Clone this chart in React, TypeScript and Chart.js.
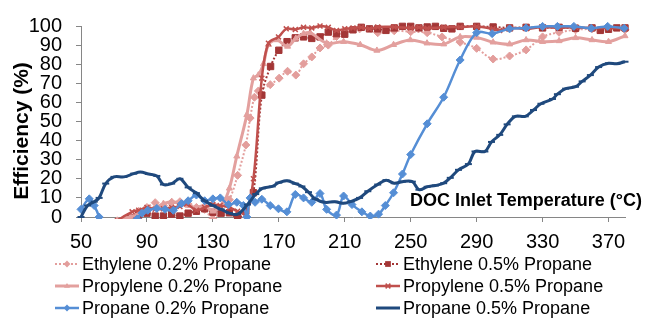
import React, { useEffect, useRef } from "react";
import { Chart, registerables } from "chart.js";

Chart.register(...registerables);

const FONT = '"Liberation Sans", Arial, Helvetica, sans-serif';

const xTickValues = [50, 90, 130, 170, 210, 250, 290, 330, 370];
const yTickValues = [0, 10, 20, 30, 40, 50, 60, 70, 80, 90, 100];
const yTitle = "Efficiency (%)";
const xTitle = "DOC Inlet Temperature (°C)";
const seriesLabels = [
  "Ethylene 0.2% Propane",
  "Ethylene 0.5% Propane",
  "Propylene 0.2% Propane",
  "Propylene 0.5% Propane",
  "Propane 0.2% Propane",
  "Propane 0.5% Propane",
];

// Ethylene 0.2% Propane
const eth02T = [65, 72, 80, 85, 90, 95, 100, 105, 110, 115, 120, 125, 130, 135, 140, 145, 150, 152.6, 155.2, 157.6, 164.8, 170.2, 175.3, 180.3, 185, 190, 195, 200, 205, 211, 219, 230, 240, 250, 260, 269, 280, 290, 300, 310, 320, 330, 340, 350, 360, 370, 380];
const eth02E = [-8, -2, 0, 3, 5, 7.5, 6, 7.7, 8, 6.8, 5, 4, -1, 3, 9, 21.8, 37.7, 51.8, 62.7, 66, 69.3, 72.7, 76.3, 74.3, 80.2, 83.8, 88.5, 90, 94.5, 97.7, 98.5, 96.5, 97.5, 97, 96.5, 94.3, 91.5, 88.3, 82.7, 84.3, 87.5, 94.3, 96.7, 98, 98.5, 98.5, 98];

// Ethylene 0.5% Propane
const eth05T = [65, 72, 80, 85, 90, 95, 100, 105, 110, 115, 120, 125, 130, 135, 140, 145, 150, 154.6, 159.7, 165, 170, 175, 180, 185, 190, 195, 200, 205, 210, 215, 220, 225, 230, 235, 240, 245, 250, 255, 260, 265, 270, 275, 280, 290, 300, 310, 320, 330, 340, 350, 360, 365, 370, 375, 380];
const eth05E = [-8, -3, -0.5, 1, 2, 0.5, 0.5, 1.5, 0.5, 2, 3, 4.3, 2.5, 2, 2.2, -0.5, 3, 12.7, 63.8, 78.8, 87.3, 91.8, 93.8, 94.3, 93.5, 94.3, 96.8, 96, 95.7, 98, 99.3, 98.5, 98.5, 97.7, 99, 99.8, 99.8, 99, 99.5, 99.8, 98.8, 98.5, 99.8, 99.8, 99.5, 99, 99.3, 99, 99.3, 98.8, 99, 97.7, 98.3, 99, 99];

// Propylene 0.2% Propane
const pro02T = [65, 72, 80, 85, 90, 95, 100, 105, 110, 115, 120, 125, 130, 136, 140, 144.5, 150.6, 154.6, 157.6, 160.7, 163.7, 168.8, 175.3, 180.3, 185, 189, 199, 209.3, 219.4, 229.5, 239.6, 249.8, 259.9, 270, 280, 290, 300, 310, 320, 330, 340, 350, 360, 370, 380];
const pro02E = [-8, -2, 0, 2, 4, 5, 7, 8, 7, 6, 5, 6, 3, 7, 15, 31.8, 53.5, 72.7, 74.3, 80.2, 90.2, 92.7, 89.3, 93.5, 96, 96.5, 91, 91.8, 90.2, 87.2, 90.2, 92.7, 91, 90.5, 94.3, 94, 91.5, 90.5, 92.7, 91.8, 92.2, 93.8, 92.7, 91.8, 94.8];

// Propylene 0.5% Propane
const pro05T = [65, 72, 81, 85, 90, 95, 100, 105, 110, 114, 120, 125, 130, 134.4, 140, 145, 150, 154.6, 159.7, 163.7, 169.8, 174.5, 180, 185, 190, 195, 200, 205, 210, 215, 220, 225, 230, 240, 250, 255, 260, 270, 280, 290, 300, 304, 310, 320, 330, 340, 350, 360, 370, 380];
const pro05E = [-8, -2, 2.7, 3.5, 5, 4, 4.3, 5, 5.5, 6.8, 3.5, 5, 6.5, 6, 5, 3, 2, 20, 72.7, 91, 94.3, 98.5, 98.2, 99.3, 99, 100, 99.3, 97.7, 98.5, 99, 99.3, 98.5, 99.5, 99.5, 99, 99.3, 98.8, 99.3, 99.5, 99.8, 98.5, 97.7, 99, 98.5, 99.5, 99, 99.3, 98.8, 99, 98.8];

// Propane 0.2% Propane
const prp02T = [50, 55, 58, 61, 64, 80, 84, 87, 90.5, 96, 101, 106, 111, 115, 120, 125, 130, 134.5, 139.5, 144.5, 148.5, 150.6, 152.6, 155.6, 159.7, 164.8, 169.8, 174.9, 180, 185, 190, 195, 199, 205, 209.3, 214.4, 220.4, 225.5, 230.5, 234.6, 239.6, 245, 250, 260, 270, 280, 290, 299.4, 310, 320, 330, 339, 349, 359.5, 369.5, 379.5];
const prp02E = [4, 9.5, 6, 0, -10, -10, -1, 2, 3.5, 4.5, 4, 3.5, 7, 8.5, 11.5, 8.5, 9.5, 10, 6.5, 7.7, 6, 0, 10, 7.7, 9.3, 6, 4.3, 2.7, 11.8, 10, 7.7, 12.3, 4, 1, 11, 6.5, 2.7, 0.5, 1.5, 6, 12.7, 22.5, 32.7, 48.8, 62.7, 82.2, 96.5, 96, 98.5, 99, 99.8, 99.8, 99.8, 98.8, 99.8, 98.8];

// Propane 0.5% Propane
const prp05T = [50, 54, 58, 61, 65, 70, 76, 82, 86, 91, 96, 100, 105, 110, 115, 120, 125, 130, 135, 140, 145, 151, 156, 160, 166, 170, 175, 180, 184, 188, 192, 198, 204, 209, 214, 219, 224, 230, 235, 240, 245, 251, 255, 260, 265, 270, 274, 279, 285, 289, 295, 299, 304, 308.5, 313.5, 319.5, 324.5, 329, 336, 339, 344, 350, 354, 359, 364, 370, 375, 380];
const prp05E = [0, 6, 8, 10, 17.5, 21, 21, 22.7, 23.5, 22.5, 21.5, 17, 17.5, 20, 15.5, 12.5, 8.5, 6, 4, 2, 1.5, 6.5, 12, 15, 16, 18, 19, 17.5, 16, 13, 9.5, 7.7, 8, 7.2, 8.2, 10, 13.5, 17, 19.3, 17.7, 18.5, 18.5, 14.3, 15.8, 16.5, 17.7, 20.5, 24.7, 27.7, 34.3, 34.3, 39.3, 43, 48.5, 52.7, 52.7, 56, 59.3, 61.8, 64.3, 67.2, 68.2, 71, 74.3, 78.5, 80.5, 80.2, 81.3];

const seriesTemps = [eth02T, eth05T, pro02T, pro05T, prp02T, prp05T];
const seriesEffs = [eth02E, eth05E, pro02E, pro05E, prp02E, prp05E];

type Style = { color: string; width: number; dash: number[]; point: string; radius: number; pbw: number };
const seriesStyles: Style[] = [
  { color: "#E39E9C", width: 2, dash: [2, 2], point: "rectRot", radius: 4, pbw: 1 },
  { color: "#A33636", width: 2, dash: [2, 2], point: "rect", radius: 4.5, pbw: 1 },
  { color: "#E3A09E", width: 3, dash: [], point: "triangle", radius: 3.5, pbw: 1 },
  { color: "#C0504D", width: 2.5, dash: [], point: "crossRot", radius: 3.5, pbw: 1.5 },
  { color: "#558ED5", width: 2.5, dash: [], point: "rectRot", radius: 4, pbw: 1 },
  { color: "#1F497D", width: 3, dash: [], point: "line", radius: 3.5, pbw: 2 },
];

function drawMarker(ctx: CanvasRenderingContext2D, st: Style, x: number, y: number) {
  const r = st.radius * 0.85;
  ctx.save();
  ctx.setLineDash([]);
  ctx.fillStyle = st.color;
  ctx.strokeStyle = st.color;
  ctx.lineWidth = st.pbw;
  ctx.beginPath();
  if (st.point === "rectRot") {
    ctx.moveTo(x, y - r); ctx.lineTo(x + r, y); ctx.lineTo(x, y + r); ctx.lineTo(x - r, y); ctx.closePath(); ctx.fill();
  } else if (st.point === "rect") {
    const s = r * 0.75; ctx.rect(x - s, y - s, 2 * s, 2 * s); ctx.fill();
  } else if (st.point === "triangle") {
    ctx.moveTo(x, y - r); ctx.lineTo(x + r, y + r * 0.6); ctx.lineTo(x - r, y + r * 0.6); ctx.closePath(); ctx.fill();
  } else if (st.point === "crossRot") {
    const s = r * 0.8;
    ctx.moveTo(x - s, y - s); ctx.lineTo(x + s, y + s); ctx.moveTo(x + s, y - s); ctx.lineTo(x - s, y + s); ctx.stroke();
  } else {
    ctx.moveTo(x - r, y); ctx.lineTo(x + r, y); ctx.stroke();
  }
  ctx.restore();
}

const overlayPlugin = {
  id: "overlay",
  afterDraw(chart: any) {
    const ctx: CanvasRenderingContext2D = chart.ctx;
    // y-axis title
    ctx.save();
    ctx.translate(22, 131);
    ctx.rotate(-Math.PI / 2);
    ctx.font = `bold 21px ${FONT}`;
    ctx.fillStyle = "#000";
    ctx.textAlign = "center";
    ctx.textBaseline = "middle";
    ctx.fillText(yTitle, 0, 0);
    ctx.restore();
    // x-axis title (inside plot)
    ctx.save();
    ctx.font = `bold 18px ${FONT}`;
    ctx.fillStyle = "#000";
    ctx.textAlign = "left";
    ctx.textBaseline = "alphabetic";
    ctx.fillText(xTitle, 410, 206);
    ctx.restore();
    // legend
    const colX = [55, 376];
    const rowY = [264, 286, 308];
    seriesLabels.forEach((label, i) => {
      const st = seriesStyles[i];
      const x0 = colX[i % 2];
      const y = rowY[Math.floor(i / 2)];
      ctx.save();
      ctx.strokeStyle = st.color;
      ctx.lineWidth = st.width;
      ctx.setLineDash(st.dash);
      ctx.beginPath();
      ctx.moveTo(x0, y);
      ctx.lineTo(x0 + 24, y);
      ctx.stroke();
      ctx.restore();
      drawMarker(ctx, st, x0 + 12, y);
      ctx.save();
      ctx.font = `18px ${FONT}`;
      ctx.fillStyle = "#000";
      ctx.textAlign = "left";
      ctx.textBaseline = "middle";
      ctx.fillText(label, x0 + 27, y + 1);
      ctx.restore();
    });
  },
};

export default function App() {
  const canvasRef = useRef<HTMLCanvasElement>(null);
  useEffect(() => {
    document.body.style.margin = "0";
    const datasets = seriesLabels.map((label, i) => {
      const st = seriesStyles[i];
      return {
        label,
        data: seriesTemps[i].map((t, k) => ({ x: t, y: seriesEffs[i][k] })),
        borderColor: st.color,
        backgroundColor: st.color,
        borderWidth: st.width,
        borderDash: st.dash,
        pointStyle: st.point,
        pointRadius: st.radius,
        pointHoverRadius: st.radius,
        pointBorderWidth: st.pbw,
        pointBackgroundColor: st.color,
        pointBorderColor: st.color,
        tension: 0.35,
        fill: false,
        order: 5 - i,
        clip: { left: 5, top: 5, right: 5, bottom: 2 },
      };
    });
    const chart = new Chart(canvasRef.current as HTMLCanvasElement, {
      type: "line",
      data: { datasets } as any,
      options: {
        responsive: false,
        animation: false,
        devicePixelRatio: 1,
        layout: { padding: { left: 0, top: 17, right: 22, bottom: 69 } },
        plugins: { legend: { display: false }, tooltip: { enabled: false } },
        scales: {
          x: {
            type: "linear",
            min: 50,
            max: 380,
            afterBuildTicks: (s: any) => {
              s.ticks = xTickValues.map((v) => ({ value: v }));
            },
            afterFit: (s: any) => {
              s.height = 40;
            },
            ticks: { font: { family: FONT, size: 20 }, color: "#000", padding: 8, maxRotation: 0, autoSkip: false },
            grid: { drawOnChartArea: false, drawTicks: true, tickLength: 5, color: "#868686" },
            border: { display: true, color: "#868686", width: 1 },
          },
          y: {
            min: 0,
            max: 100,
            afterBuildTicks: (s: any) => {
              s.ticks = yTickValues.map((v) => ({ value: v }));
            },
            afterFit: (s: any) => {
              s.width = 81;
            },
            ticks: { stepSize: 10, autoSkip: false, font: { family: FONT, size: 20 }, color: "#000", padding: 14 },
            grid: { drawOnChartArea: false, drawTicks: true, tickLength: 5, color: "#868686" },
            border: { display: true, color: "#868686", width: 1 },
          },
        },
      } as any,
      plugins: [overlayPlugin],
    });
    return () => chart.destroy();
  }, []);
  return (
    <div style={{ width: 647, height: 326 }}>
      <canvas ref={canvasRef} width={647} height={326} style={{ display: "block" }} />
    </div>
  );
}
